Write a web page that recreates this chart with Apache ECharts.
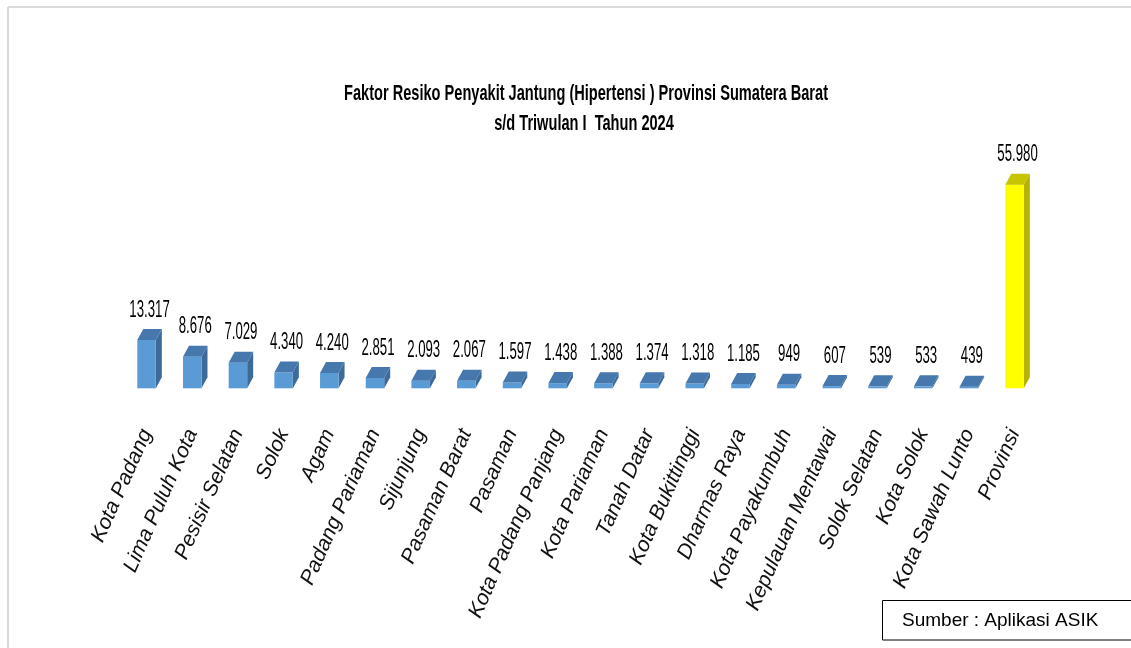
<!DOCTYPE html>
<html>
<head>
<meta charset="utf-8">
<script src="https://cdn.jsdelivr.net/npm/echarts@6/dist/echarts.min.js"></script>
<style>
html,body{margin:0;padding:0;background:#fff;}
#chart{width:1131px;height:648px;}
</style>
</head>
<body>
<div id="chart"></div>
<script>
const titleLines = [
  'Faktor Resiko Penyakit Jantung (Hipertensi ) Provinsi Sumatera Barat',
  's/d Triwulan I  Tahun 2024'
];
const sourceText = 'Sumber : Aplikasi ASIK';
const categories = [
  'Kota Padang', 'Lima Puluh Kota', 'Pesisir Selatan', 'Solok', 'Agam',
  'Padang Pariaman', 'Sijunjung', 'Pasaman Barat', 'Pasaman', 'Kota Padang Panjang',
  'Kota Pariaman', 'Tanah Datar', 'Kota Bukittinggi', 'Dharmas Raya', 'Kota Payakumbuh',
  'Kepulauan Mentawai', 'Solok Selatan', 'Kota Solok', 'Kota Sawah Lunto', 'Provinsi'
];
const values = [
  13317, 8676, 7029, 4340, 4240,
  2851, 2093, 2067, 1597, 1438,
  1388, 1374, 1318, 1185, 949,
  607, 539, 533, 439, 55980
];
const highlightCategory = 'Provinsi';

const FONT = '"Liberation Sans", Arial, sans-serif';
function measure(text, font) {
  const c = document.createElement('canvas').getContext('2d');
  c.font = font;
  return c.measureText(text).width;
}
function fmt(v) {
  return String(v).replace(/\B(?=(\d{3})+(?!\d))/g, '.');
}

const titleFont = 'bold 22px ' + FONT;
const titleScale = 484 / measure(titleLines[0], titleFont);

const blue = {front: '#5b9bd5', top: '#4677ad', side: '#3d6a99'};
const yellow = {front: '#ffff00', top: '#c6c600', side: '#b3b300'};
const DX = 6, DY = 11;

function renderItem(params, api) {
  const idx = api.value(0);
  const val = api.value(1);
  const top = api.coord([idx, val]);
  const base = api.coord([idx, 0]);
  const w = api.size([1, 0])[0] * 0.405;
  const x0 = top[0] - w / 2, x1 = top[0] + w / 2;
  const yt = top[1], yb = base[1];
  const c = categories[idx] === highlightCategory ? yellow : blue;
  return {
    type: 'group',
    children: [
      {type: 'polygon', shape: {points: [[x1, yt], [x1 + DX, yt - DY], [x1 + DX, yb - DY], [x1, yb]]},
       style: {fill: c.side}},
      {type: 'rect', shape: {x: x0, y: yt, width: w, height: Math.max(yb - yt, 0)},
       style: {fill: c.front}},
      {type: 'polygon', shape: {points: [[x0, yt], [x1, yt], [x1 + DX, yt - DY], [x0 + DX, yt - DY]]},
       style: {fill: c.top}},
      {type: 'text', x: top[0] + DX / 2, y: yt - DY - 7, scaleX: 0.55,
       style: {text: fmt(val), font: '24px ' + FONT, fill: '#000', align: 'center', verticalAlign: 'bottom'}}
    ]
  };
}

const chart = echarts.init(document.getElementById('chart'), null, {renderer: 'canvas'});
chart.setOption({
  backgroundColor: '#ffffff',
  animation: false,
  grid: {left: 123.7, right: 93.6, top: 170.2, bottom: 259.7, outerBoundsMode: 'none'},
  xAxis: {
    type: 'category',
    data: categories,
    axisLine: {show: false},
    axisTick: {show: false},
    axisLabel: {
      interval: 0, rotate: 66, margin: 42,
      fontStyle: 'italic', fontSize: 21, fontFamily: FONT, color: '#111'
    }
  },
  yAxis: {type: 'value', min: 0, max: 60000, show: false, splitLine: {show: false}},
  series: [{
    type: 'custom',
    renderItem: renderItem,
    encode: {x: 0, y: 1},
    data: values.map((v, i) => [i, v])
  }],
  graphic: [
    {type: 'line', shape: {x1: 8, y1: 7, x2: 1131, y2: 7}, style: {stroke: '#d9d9d9', lineWidth: 2}},
    {type: 'line', shape: {x1: 8, y1: 7, x2: 8, y2: 648}, style: {stroke: '#d9d9d9', lineWidth: 2}},
    {type: 'text', x: 586, y: 93.5, scaleX: titleScale,
     style: {text: titleLines[0], font: titleFont, fill: '#000', align: 'center', verticalAlign: 'middle'}},
    {type: 'text', x: 584, y: 123.5, scaleX: titleScale,
     style: {text: titleLines[1], font: titleFont, fill: '#000', align: 'center', verticalAlign: 'middle'}},
    {type: 'rect', shape: {x: 882.5, y: 600.5, width: 260, height: 39.5},
     style: {fill: '#fff', stroke: '#000', lineWidth: 1}},
    {type: 'text', x: 902, y: 621,
     style: {text: sourceText, font: '19px ' + FONT, fill: '#000', align: 'left', verticalAlign: 'middle'}}
  ]
});
</script>
</body>
</html>
